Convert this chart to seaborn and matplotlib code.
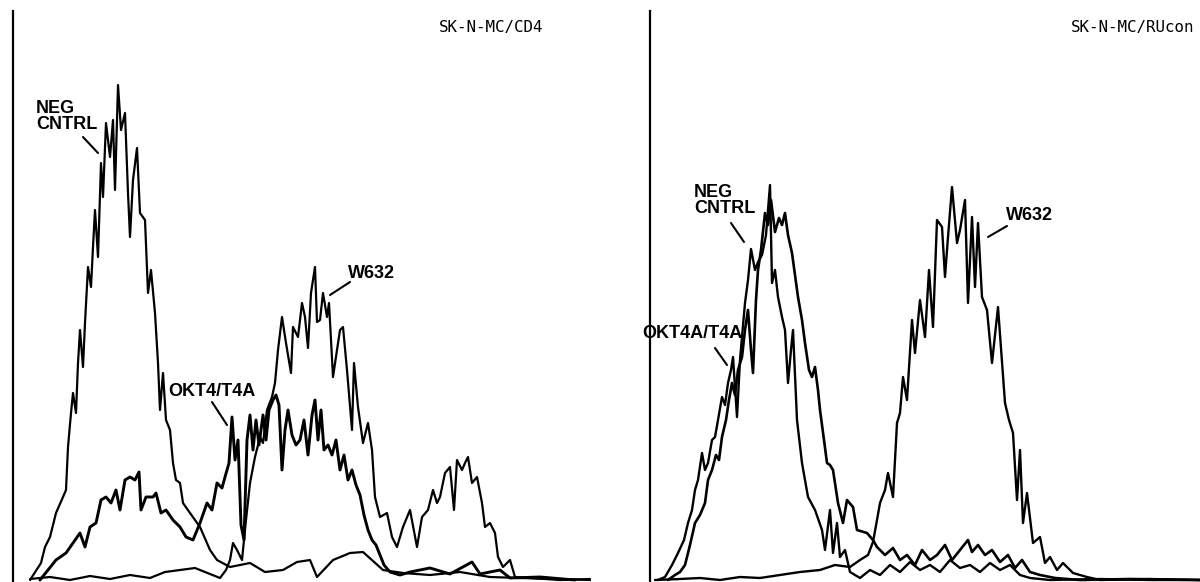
import matplotlib
matplotlib.use("Agg")
import matplotlib.pyplot as plt
import seaborn as sns

sns.set_theme(style="white")
plt.rcParams["font.family"] = ["Liberation Sans", "DejaVu Sans"]

# ---------------- SK-N-MC/CD4 histograms (channel, cell count) ----------------
cd4_neg_ch = [17, 28, 32, 37, 43, 50, 53, 55, 58, 60, 63, 65, 67, 70, 72, 75, 78, 80, 82, 85,
              88, 90, 93, 97, 100, 102, 105, 108, 112, 115, 117, 120, 124, 127, 132, 135, 138,
              142, 145, 147, 150, 153, 157, 160, 163, 167, 170, 177, 187, 197, 204, 217, 237,
              252, 270, 284, 297, 304, 320, 337, 350, 370, 390, 417, 447, 477, 507, 547, 577]
cd4_neg_ct = [2, 19, 35, 45, 69, 85, 92, 135, 169, 189, 169, 219, 252, 215, 259, 315, 295, 335,
              372, 325, 419, 385, 459, 425, 462, 392, 497, 452, 469, 389, 345, 402, 434, 369, 362,
              289, 312, 269, 219, 172, 209, 162, 152, 119, 102, 99, 79, 69, 55, 32, 22, 15, 19,
              10, 12, 20, 22, 5, 22, 29, 30, 12, 9, 7, 10, 5, 4, 3, 2]

cd4_okt4_ch = [27, 43, 53, 60, 67, 72, 77, 83, 88, 93, 98, 103, 107, 112, 117, 122, 126, 128,
               133, 140, 143, 148, 153, 160, 167, 173, 180, 187, 194, 199, 204, 209, 212, 216,
               219, 222, 225, 228, 231, 234, 237, 240, 243, 246, 250, 253, 256, 260, 263, 266,
               269, 272, 275, 279, 283, 287, 291, 295, 299, 302, 305, 308, 311, 315, 319, 323,
               327, 331, 335, 339, 343, 347, 351, 355, 359, 363, 367, 371, 377, 387, 397, 417,
               437, 459, 467, 487, 497, 527, 562]
cd4_okt4_ct = [2, 22, 29, 39, 49, 35, 55, 59, 82, 85, 79, 92, 72, 102, 105, 102, 110, 72, 85,
               85, 89, 69, 72, 62, 55, 45, 42, 59, 79, 72, 99, 94, 105, 119, 165, 122, 142, 57,
               42, 142, 167, 132, 162, 137, 167, 142, 172, 182, 187, 177, 112, 152, 172, 147,
               137, 142, 162, 127, 167, 182, 142, 172, 132, 137, 127, 142, 112, 127, 102, 112,
               97, 87, 67, 52, 42, 37, 27, 17, 10, 7, 10, 14, 8, 20, 8, 12, 4, 5, 2]

cd4_w632_ch = [17, 37, 57, 77, 97, 117, 137, 152, 167, 182, 197, 207, 213, 217, 220, 224, 229,
               233, 237, 242, 247, 250, 254, 259, 262, 265, 269, 273, 278, 280, 285, 289, 292,
               295, 298, 302, 304, 307, 310, 314, 316, 320, 324, 327, 330, 334, 339, 341, 345,
               350, 355, 359, 362, 367, 374, 379, 384, 390, 397, 404, 409, 415, 420, 424, 427,
               432, 437, 441, 444, 449, 452, 455, 459, 464, 469, 472, 477, 482, 485, 490, 497,
               502, 517, 547, 577]
cd4_w632_ct = [3, 5, 2, 6, 3, 7, 4, 10, 12, 14, 8, 4, 12, 22, 39, 32, 22, 62, 99, 125, 145, 139,
               172, 185, 199, 232, 265, 239, 209, 255, 245, 279, 265, 234, 289, 315, 260, 262,
               289, 265, 279, 205, 232, 252, 255, 212, 152, 219, 175, 139, 159, 132, 85, 65, 69,
               45, 35, 55, 72, 35, 65, 72, 92, 79, 85, 109, 115, 72, 122, 112, 119, 125, 99,
               105, 79, 55, 59, 49, 25, 15, 22, 5, 4, 2, 3]

# ---------------- SK-N-MC/RUcon histograms (channel, cell count) ----------------
ru_neg_ch = [8, 15, 22, 28, 34, 38, 42, 45, 48, 52, 55, 58, 62, 65, 68, 72, 75, 78, 81, 83,
             87, 90, 92, 95, 98, 101, 105, 108, 112, 116, 120, 122, 125, 128, 132, 135, 138,
             141, 143, 147, 152, 158, 165, 172, 175, 180, 183, 187, 190, 195, 200, 210, 220,
             230, 240, 250, 260, 270, 280, 290, 300, 310, 320, 330, 340, 350, 360, 370, 380,
             400, 450, 500, 550]
ru_neg_ct = [2, 5, 17, 29, 42, 59, 72, 92, 102, 129, 112, 119, 142, 145, 162, 185, 177, 199,
             212, 225, 165, 222, 245, 279, 302, 333, 312, 320, 327, 347, 397, 299, 312, 285,
             265, 252, 199, 232, 252, 162, 119, 85, 72, 52, 32, 72, 29, 59, 25, 32, 10, 4, 12,
             7, 17, 10, 20, 12, 17, 10, 22, 14, 17, 10, 19, 12, 17, 7, 4, 2, 3, 2, 2]

ru_okt4a_ch = [18, 25, 30, 35, 40, 45, 50, 55, 58, 62, 66, 69, 72, 76, 79, 82, 85, 88, 92, 95,
               98, 101, 103, 106, 108, 111, 115, 118, 121, 125, 129, 132, 135, 138, 142, 145,
               148, 152, 155, 159, 162, 165, 168, 170, 174, 177, 180, 183, 188, 193, 197, 203,
               207, 217, 223, 227, 235, 243, 250, 257, 265, 272, 280, 287, 295, 302, 310, 318,
               322, 328, 335, 342, 350, 358, 365, 372, 380, 390, 405, 430, 480, 550]
ru_okt4a_ct = [2, 7, 10, 17, 37, 59, 67, 79, 102, 112, 127, 122, 145, 162, 182, 199, 187, 212,
               225, 252, 272, 232, 209, 282, 312, 332, 369, 357, 382, 350, 364, 357, 369, 347,
               329, 307, 285, 262, 239, 212, 205, 215, 192, 172, 142, 119, 117, 112, 79, 59, 82,
               75, 52, 49, 42, 35, 27, 34, 22, 27, 17, 32, 22, 27, 37, 22, 32, 42, 30, 37, 27,
               32, 20, 27, 14, 22, 10, 7, 4, 2, 3, 2]

ru_w632_ch = [5, 30, 50, 70, 90, 110, 130, 150, 170, 185, 200, 210, 218, 223, 227, 230, 235,
              238, 243, 247, 250, 253, 257, 262, 265, 270, 275, 279, 283, 287, 292, 295, 298,
              302, 307, 310, 315, 318, 322, 325, 328, 332, 337, 342, 348, 355, 359, 363, 367,
              370, 373, 377, 383, 390, 395, 400, 407, 413, 423, 437, 450, 500, 550]
ru_w632_ct = [2, 3, 4, 2, 5, 4, 7, 10, 12, 17, 15, 22, 27, 40, 62, 79, 92, 109, 85, 159, 169,
              205, 182, 262, 229, 282, 245, 312, 255, 362, 355, 305, 345, 395, 339, 352, 382,
              279, 365, 295, 359, 285, 272, 219, 275, 179, 162, 149, 82, 132, 59, 89, 39, 45,
              19, 25, 12, 19, 9, 5, 2, 3, 2]

panels = [
    {
        "title": "SK-N-MC/CD4",
        "title_x": 426,
        "curves": [(cd4_neg_ch, cd4_neg_ct, 1.6),
                   (cd4_okt4_ch, cd4_okt4_ct, 2.1),
                   (cd4_w632_ch, cd4_w632_ct, 1.6)],
        "labels": [("NEG\nCNTRL", 23, 482, (70, 445), (85, 429)),
                   ("W632", 335, 317, (337, 300), (317, 287)),
                   ("OKT4/T4A", 155, 199, (199, 180), (214, 157))],
    },
    {
        "title": "SK-N-MC/RUcon",
        "title_x": 421,
        "curves": [(ru_neg_ch, ru_neg_ct, 1.7),
                   (ru_okt4a_ch, ru_okt4a_ct, 1.9),
                   (ru_w632_ch, ru_w632_ct, 1.7)],
        "labels": [("NEG\nCNTRL", 44, 398, (81, 359), (94, 340)),
                   ("W632", 356, 375, (357, 356), (338, 345)),
                   ("OKT4A/T4A", -8, 257, (65, 234), (77, 217))],
    },
]

W, H = 1200, 582
fig = plt.figure(figsize=(W / 100, H / 100), dpi=100)
fig.patch.set_facecolor("white")
axes = [fig.add_axes([13 / W, 0, 600 / W, 571 / H]),
        fig.add_axes([650 / W, 0, 600 / W, 571 / H])]

for ax, panel in zip(axes, panels):
    ax.set_facecolor("none")
    for ch, ct, lw in panel["curves"]:
        sns.lineplot(x=ch, y=ct, ax=ax, color="black", linewidth=lw,
                     estimator=None, sort=False)
    ax.set_xlim(0, 600)
    ax.set_ylim(0, 571)
    ax.set_xticks([])
    ax.set_yticks([])
    ax.set_xlabel("")
    ax.set_ylabel("")
    for side in ("top", "right", "bottom"):
        ax.spines[side].set_visible(False)
    ax.spines["left"].set_color("black")
    ax.spines["left"].set_linewidth(1.6)

    ax.text(panel["title_x"], 550, panel["title"], family="DejaVu Sans Mono",
            fontsize=11.4, color="black", ha="left", va="baseline", clip_on=False)

    for text, tx, ty, p0, p1 in panel["labels"]:
        ax.text(tx, ty, text, fontsize=13, fontweight="bold", color="black",
                ha="left", va="top", linespacing=0.95, clip_on=False)
        ax.annotate("", xy=p1, xytext=p0,
                    arrowprops=dict(arrowstyle="-", color="black", lw=1.5,
                                    shrinkA=0, shrinkB=0))

fig.savefig("out.png", dpi=100, facecolor="white")
